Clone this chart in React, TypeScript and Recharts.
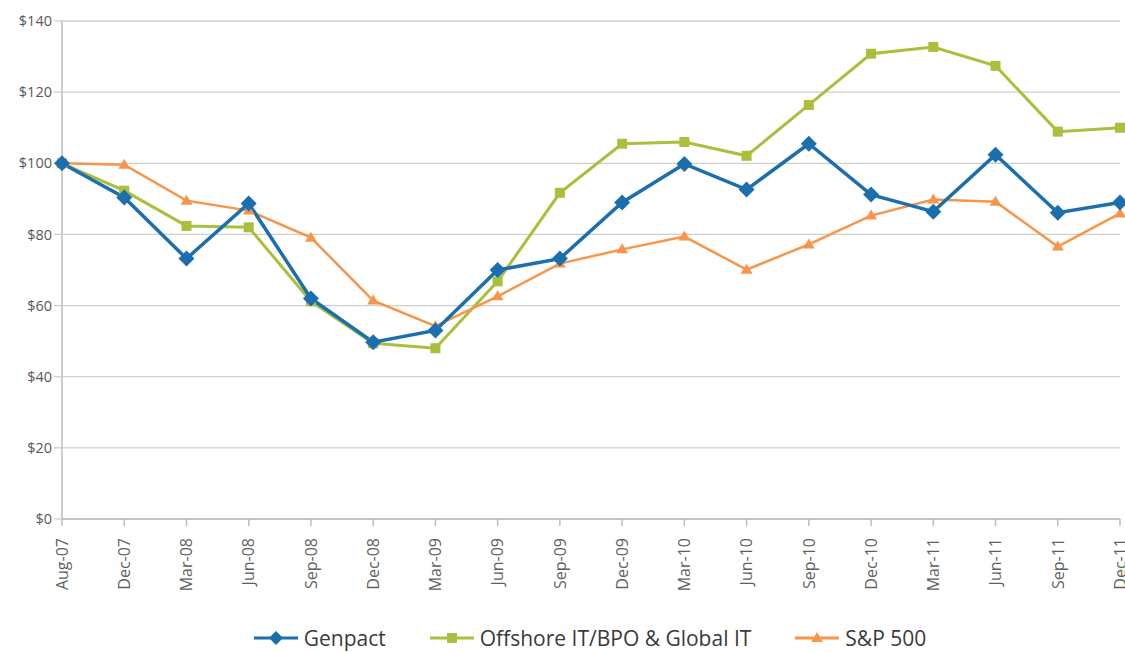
import React from "react";
import { LineChart, Line, XAxis, YAxis, CartesianGrid, Legend } from "recharts";

const categories = ["Aug-07","Dec-07","Mar-08","Jun-08","Sep-08","Dec-08","Mar-09","Jun-09","Sep-09","Dec-09","Mar-10","Jun-10","Sep-10","Dec-10","Mar-11","Jun-11","Sep-11","Dec-11"];
const genpact = [100, 90.4, 73.2, 88.7, 62, 49.7, 53, 70, 73.2, 89, 99.8, 92.6, 105.5, 91.2, 86.4, 102.4, 86.1, 89];
const offshore = [100, 92.3, 82.4, 82, 61.2, 49.4, 48, 66.8, 91.7, 105.5, 106, 102.1, 116.4, 130.8, 132.7, 127.4, 108.9, 110];
const sp500 = [100, 99.6, 89.5, 86.7, 79.1, 61.4, 54.2, 62.6, 71.8, 75.8, 79.4, 70.1, 77.2, 85.3, 89.8, 89.2, 76.6, 85.9];
const yTicks = [0, 20, 40, 60, 80, 100, 120, 140];

const BLUE = "#1C6FAE";
const GREEN = "#A8C03C";
const ORANGE = "#F7964A";
const FONT = "'Open Sans', 'Noto Sans', sans-serif";

const data = categories.map((c, i) => ({ cat: c, genpact: genpact[i], offshore: offshore[i], sp500: sp500[i] }));

const Diamond = (props: any) => {
  const { cx, cy } = props;
  if (cx == null || cy == null) return null;
  const r = 8;
  return <path d={`M${cx},${cy - r}L${cx + r},${cy}L${cx},${cy + r}L${cx - r},${cy}Z`} fill={BLUE} />;
};
const Square = (props: any) => {
  const { cx, cy } = props;
  if (cx == null || cy == null) return null;
  const s = 5;
  return <rect x={cx - s} y={cy - s} width={2 * s} height={2 * s} fill={GREEN} />;
};
const Triangle = (props: any) => {
  const { cx, cy } = props;
  if (cx == null || cy == null) return null;
  return <path d={`M${cx},${cy - 6}L${cx + 6},${cy + 4}L${cx - 6},${cy + 4}Z`} fill={ORANGE} />;
};

const XTick = (props: any) => {
  const { x, y, payload } = props;
  const ay = y + 10;
  return (
    <text x={x} y={ay} transform={`rotate(-90 ${x} ${ay})`} textAnchor="end" dy="0.36em" fill="#5f5f5f" fontSize={16} fontFamily={FONT}>
      {payload.value}
    </text>
  );
};

const legendItems = [
  { label: "Genpact", color: BLUE, shape: "diamond" },
  { label: "Offshore IT/BPO & Global IT", color: GREEN, shape: "square" },
  { label: "S&P 500", color: ORANGE, shape: "triangle" },
];

const LegendIcon = ({ color, shape }: { color: string; shape: string }) => (
  <svg width={44} height={20} style={{ display: "block" }}>
    <line x1={0} y1={10} x2={44} y2={10} stroke={color} strokeWidth={3} />
    {shape === "diamond" && <path d="M22,3L29,10L22,17L15,10Z" fill={color} />}
    {shape === "square" && <rect x={17} y={5} width={10} height={10} fill={color} />}
    {shape === "triangle" && <path d="M22,4L28,14L16,14Z" fill={color} />}
  </svg>
);

const renderLegend = () => (
  <div style={{ display: "flex", justifyContent: "center", alignItems: "center", height: 28, fontFamily: FONT, fontSize: 21, color: "#3a3a3a", paddingLeft: 52 }}>
    {legendItems.map((it, i) => (
      <div key={it.label} style={{ display: "flex", alignItems: "center", marginLeft: i === 0 ? 0 : 44 }}>
        <LegendIcon color={it.color} shape={it.shape} />
        <span style={{ marginLeft: 6 }}>{it.label}</span>
      </div>
    ))}
  </div>
);

export default function App() {
  return (
    <div style={{ position: "absolute", left: 0, top: 0, width: 1125, height: 652, background: "#fff" }}>
      <LineChart width={1125} height={652} data={data} margin={{ top: 21, right: 5, bottom: 0, left: 8 }}>
        <CartesianGrid vertical={false} stroke="#cfcfcf" strokeWidth={1.3} />
        <XAxis
          dataKey="cat"
          interval={0}
          tick={<XTick />}
          height={105}
          stroke="#bdbdbd"
          tickSize={7}
          axisLine={{ stroke: "#bdbdbd", strokeWidth: 1.5 }}
          tickLine={{ stroke: "#bdbdbd", strokeWidth: 1.5 }}
        />
        <YAxis
          domain={[0, 140]}
          ticks={yTicks}
          width={54}
          tickSize={8}
          tickFormatter={(v: number) => `$${v}`}
          tick={{ fill: "#595959", fontSize: 14.5, fontFamily: FONT }}
          axisLine={{ stroke: "#bdbdbd", strokeWidth: 1.5 }}
          tickLine={{ stroke: "#cfcfcf", strokeWidth: 1.3 }}
        />
        <Legend verticalAlign="bottom" content={renderLegend} height={28} />
        <Line dataKey="offshore" stroke={GREEN} strokeWidth={3} dot={<Square />} activeDot={false} isAnimationActive={false} />
        <Line dataKey="sp500" stroke={ORANGE} strokeWidth={2.5} dot={<Triangle />} activeDot={false} isAnimationActive={false} />
        <Line dataKey="genpact" stroke={BLUE} strokeWidth={3.5} dot={<Diamond />} activeDot={false} isAnimationActive={false} />
      </LineChart>
    </div>
  );
}
